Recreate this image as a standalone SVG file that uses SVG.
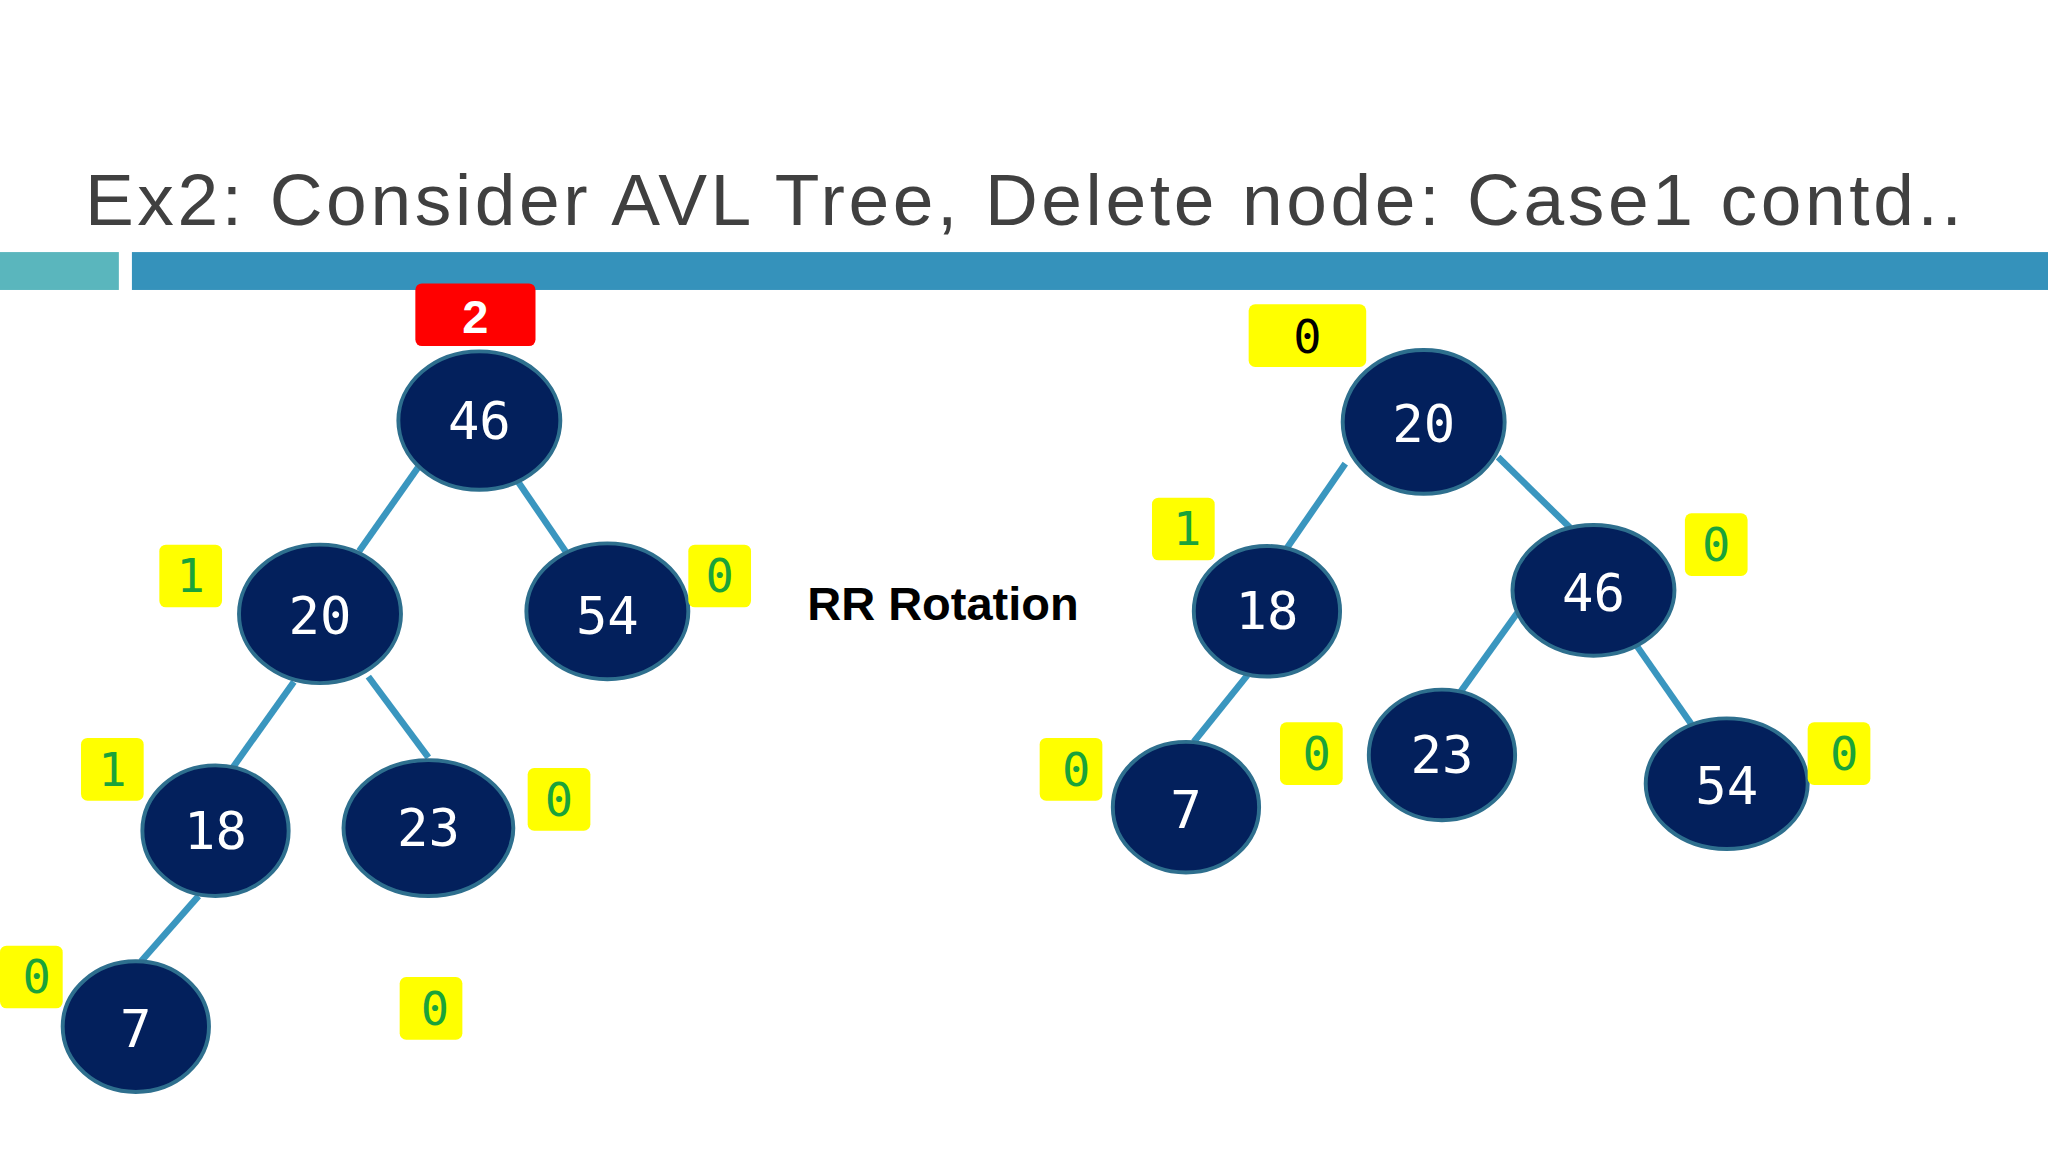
<svg xmlns="http://www.w3.org/2000/svg" width="2048" height="1152" viewBox="0 0 2048 1152">
<style>
.n{fill:#03205c;stroke:#2e6f8e;stroke-width:3}
.nt{fill:#fff;font-family:"DejaVu Sans Mono",monospace;font-size:40px;text-anchor:middle;dominant-baseline:central}
.y{fill:#ffff00}
.yt{fill:#1aa33a;font-family:"DejaVu Sans Mono",monospace;font-size:36px;text-anchor:middle;dominant-baseline:central}
.e line{stroke:#3a96bf;stroke-width:5}
</style>
<rect width="2048" height="1152" fill="#fff"/>
<g transform="scale(1.306122)">
<text x="65" y="172" font-family="Liberation Sans, sans-serif" font-size="56" fill="#404040" textLength="1437">Ex2: Consider AVL Tree, Delete node: Case1 contd..</text>
<rect x="0" y="193" width="91" height="29" fill="#5ab6bd"/>
<rect x="101" y="193" width="1467" height="29" fill="#3592bb"/>
<g class="e" id="edges">
<line x1="320" y1="358" x2="275" y2="422"/>
<line x1="392" y1="362" x2="437" y2="428"/>
<line x1="225" y1="522" x2="178" y2="588"/>
<line x1="282" y1="518" x2="328" y2="580"/>
<line x1="152" y1="686" x2="108" y2="736"/>
<line x1="1030" y1="355" x2="985" y2="420"/>
<line x1="1147" y1="350" x2="1202" y2="404"/>
<line x1="955" y1="517" x2="914" y2="568"/>
<line x1="1164" y1="466" x2="1118" y2="530"/>
<line x1="1250" y1="490" x2="1296" y2="556"/>
</g>
<g id="L46"><ellipse class="n" cx="367" cy="322" rx="62" ry="53"/><text class="nt" x="367" y="322">46</text></g>
<g id="L20"><ellipse class="n" cx="245" cy="470" rx="62" ry="53"/><text class="nt" x="245" y="472">20</text></g>
<g id="L54"><ellipse class="n" cx="465" cy="468" rx="62" ry="52"/><text class="nt" x="465" y="472">54</text></g>
<g id="L18"><ellipse class="n" cx="165" cy="636" rx="56" ry="50"/><text class="nt" x="165" y="636">18</text></g>
<g id="L23"><ellipse class="n" cx="328" cy="634" rx="65" ry="52"/><text class="nt" x="328" y="634">23</text></g>
<g id="L7"><ellipse class="n" cx="104" cy="786" rx="56" ry="50"/><text class="nt" x="104" y="788">7</text></g>
<g id="R20"><ellipse class="n" cx="1090" cy="323" rx="62" ry="55"/><text class="nt" x="1090" y="325">20</text></g>
<g id="R18"><ellipse class="n" cx="970" cy="468" rx="56" ry="50"/><text class="nt" x="970" y="468">18</text></g>
<g id="R46"><ellipse class="n" cx="1220" cy="452" rx="62" ry="50"/><text class="nt" x="1220" y="454">46</text></g>
<g id="R7"><ellipse class="n" cx="908" cy="618" rx="56" ry="50"/><text class="nt" x="908" y="620">7</text></g>
<g id="R23"><ellipse class="n" cx="1104" cy="578" rx="56" ry="50"/><text class="nt" x="1104" y="578">23</text></g>
<g id="R54"><ellipse class="n" cx="1322" cy="600" rx="62" ry="50"/><text class="nt" x="1322" y="602">54</text></g>
<g id="labels">
<rect x="318" y="217" width="92" height="48" rx="5" fill="#ff0000"/>
<text x="364" y="242" fill="#fff" font-family="Liberation Sans, sans-serif" font-weight="bold" font-size="36" text-anchor="middle" dominant-baseline="central">2</text>
<rect class="y" x="122" y="417" width="48" height="48" rx="5"/><text class="yt" x="146" y="441">1</text>
<rect class="y" x="527" y="417" width="48" height="48" rx="5"/><text class="yt" x="551" y="441">0</text>
<rect class="y" x="62" y="565" width="48" height="48" rx="5"/><text class="yt" x="86" y="589">1</text>
<rect class="y" x="404" y="588" width="48" height="48" rx="5"/><text class="yt" x="428" y="612">0</text>
<rect class="y" x="0" y="724" width="48" height="48" rx="5"/><text class="yt" x="28" y="748">0</text>
<rect class="y" x="306" y="748" width="48" height="48" rx="5"/><text class="yt" x="333" y="772">0</text>
<rect class="y" x="956" y="233" width="90" height="48" rx="5"/><text class="yt" x="1001" y="258" fill="#000" style="fill:#000">0</text>
<rect class="y" x="882" y="381" width="48" height="48" rx="5"/><text class="yt" x="909" y="405">1</text>
<rect class="y" x="1290" y="393" width="48" height="48" rx="5"/><text class="yt" x="1314" y="417">0</text>
<rect class="y" x="796" y="565" width="48" height="48" rx="5"/><text class="yt" x="824" y="589">0</text>
<rect class="y" x="980" y="553" width="48" height="48" rx="5"/><text class="yt" x="1008" y="577">0</text>
<rect class="y" x="1384" y="553" width="48" height="48" rx="5"/><text class="yt" x="1412" y="577">0</text>
</g>
<text x="618" y="475" font-family="Liberation Sans, sans-serif" font-weight="bold" font-size="36" fill="#000">RR Rotation</text>
</g>
</svg>
